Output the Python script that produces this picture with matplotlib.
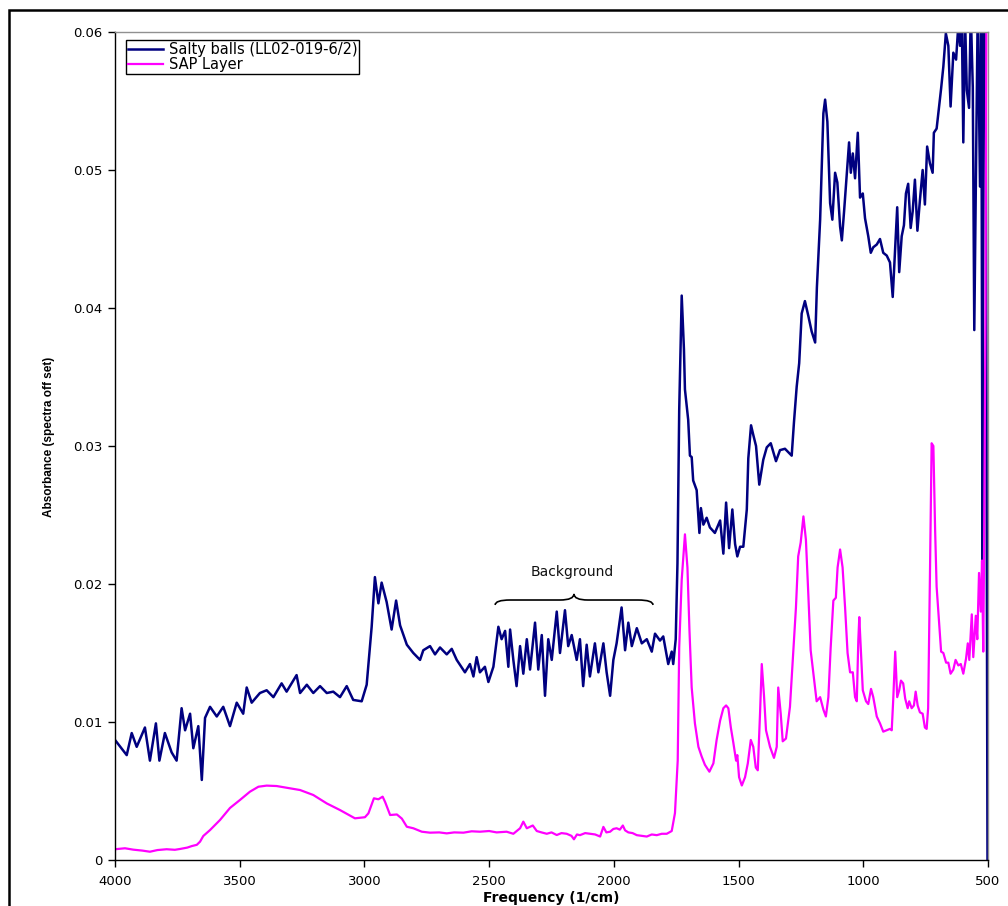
import matplotlib
matplotlib.use("Agg")
import matplotlib.pyplot as plt
from matplotlib.path import Path
from matplotlib.patches import PathPatch, Rectangle
from matplotlib.ticker import FuncFormatter, MultipleLocator

# ---------------- data ----------------
salty_freq = [4000,3953,3933,3913,3880,3860,3836,3822,3800,3773,3753,3733,3719,3699,3686,3666,3652,3639,3619,3592,
              3566,3539,3512,3486,3472,3452,3419,3392,3365,3332,3312,3272,3258,3231,3205,3178,3151,3125,3098,3071,
              3045,3011,2991,2971,2958,2944,2931,2911,2891,2873,2857,2830,2804,2777,2764,2737,2717,2697,2670,2650,
              2630,2597,2577,2563,2550,2537,2517,2503,2483,2463,2450,2436,2423,2416,2403,2390,2376,2363,2349,2336,
              2316,2303,2289,2276,2263,2249,2229,2216,2196,2183,2169,2149,2136,2123,2109,2096,2076,2062,2042,2029,
              2015,2002,1989,1969,1955,1942,1928,1908,1888,1868,1848,1835,1815,1802,1782,1768,1762,1752,1745,1738,
              1728,1719,1715,1702,1695,1688,1682,1668,1657,1651,1641,1628,1615,1595,1574,1561,1550,1538,1525,1514,
              1505,1494,1481,1467,1461,1450,1441,1430,1417,1401,1387,1371,1350,1334,1314,1287,1278,1267,1257,1247,
              1234,1220,1207,1193,1186,1173,1160,1153,1144,1133,1124,1113,1104,1093,1086,1077,1067,1057,1050,1042,
              1033,1022,1013,1002,993,980,970,960,946,933,920,906,893,882,873,864,856,846,837,829,
              820,810,802,793,783,773,762,753,744,733,722,717,706,696,688,679,669,659,650,639,
              628,619,612,605,599,592,585,576,569,561,555,548,541,532,527,522,518,510,502]
salty_abs = [.0087,.0076,.0092,.0082,.0096,.0072,.0099,.0072,.0092,.0078,.0072,.0110,.0094,.0106,.0081,.0097,.0058,.0103,.0111,.0104,
             .0111,.0097,.0114,.0106,.0125,.0114,.0121,.0123,.0118,.0128,.0122,.0134,.0121,.0127,.0121,.0126,.0121,.0122,.0118,.0126,
             .0116,.0115,.0127,.0169,.0205,.0186,.0201,.0187,.0167,.0188,.0170,.0156,.0150,.0145,.0152,.0155,.0149,.0154,.0149,.0153,
             .0145,.0136,.0142,.0133,.0147,.0136,.0140,.0129,.0140,.0169,.0160,.0166,.0140,.0167,.0145,.0126,.0155,.0135,.0160,.0138,
             .0172,.0138,.0163,.0119,.0160,.0145,.0180,.0150,.0181,.0155,.0163,.0145,.0160,.0126,.0156,.0133,.0157,.0136,.0157,.0136,
             .0119,.0145,.0157,.0183,.0152,.0172,.0155,.0168,.0157,.0160,.0151,.0164,.0159,.0162,.0142,.0151,.0142,.0160,.0215,.0326,
             .0409,.0370,.0341,.0319,.0293,.0292,.0275,.0268,.0237,.0255,.0243,.0248,.0241,.0237,.0246,.0222,.0259,.0226,.0254,.0229,
             .0220,.0227,.0227,.0254,.0291,.0315,.0308,.0300,.0272,.0290,.0299,.0302,.0289,.0297,.0298,.0293,.0317,.0343,.0360,.0396,
             .0405,.0394,.0383,.0375,.0415,.0464,.0541,.0551,.0535,.0476,.0464,.0498,.0491,.0459,.0449,.0470,.0495,.0520,.0498,.0512,
             .0494,.0527,.0480,.0483,.0465,.0452,.0440,.0444,.0446,.0450,.0440,.0438,.0433,.0408,.0440,.0473,.0426,.0452,.0460,.0483,
             .0490,.0458,.0470,.0493,.0456,.0478,.0500,.0475,.0517,.0505,.0498,.0527,.0530,.0546,.0559,.0575,.0599,.0590,.0546,.0585,
             .0580,.0605,.0590,.0610,.0520,.0610,.0558,.0545,.0615,.0560,.0384,.0500,.0620,.0488,.0620,.0217,.0620,.0620,.0000]

sap_freq = [4000,3960,3927,3890,3860,3830,3793,3760,3739,3710,3692,3672,3659,3646,3619,3579,3539,3499,3459,3425,
            3392,3352,3312,3258,3205,3151,3098,3038,2998,2984,2962,2944,2927,2917,2897,2870,2850,2830,2804,2770,
            2737,2700,2670,2640,2603,2570,2537,2500,2470,2430,2403,2376,2363,2349,2325,2309,2290,2269,2250,2229,
            2210,2189,2170,2160,2148,2136,2115,2096,2075,2055,2042,2030,2015,2002,1989,1976,1964,1955,1942,1925,
            1908,1888,1868,1848,1828,1808,1788,1768,1755,1744,1738,1728,1715,1705,1697,1688,1675,1661,1648,1635,
            1617,1601,1588,1574,1561,1550,1541,1531,1521,1510,1505,1498,1487,1474,1463,1451,1441,1431,1423,1414,
            1407,1398,1390,1374,1358,1347,1341,1331,1323,1310,1294,1281,1270,1261,1251,1240,1230,1220,1211,1200,
            1187,1173,1160,1150,1140,1131,1120,1110,1103,1093,1083,1073,1063,1053,1042,1033,1026,1020,1016,1009,
            1002,989,980,969,960,946,933,920,906,893,886,880,872,864,856,849,840,832,822,816,
            806,797,790,782,773,762,753,746,740,733,726,719,712,706,696,688,679,668,659,650,
            639,630,619,609,599,588,581,575,565,559,549,543,536,529,524,519,516,510,506]
sap_abs = [.00078,.00085,.00075,.00068,.00060,.00072,.00078,.00074,.00080,.00090,.00101,.00110,.00133,.00174,.00217,.00290,.00377,.00435,.00495,.00531,
           .00539,.00536,.00524,.00507,.00471,.00410,.00362,.00302,.00310,.00338,.00447,.00440,.00459,.00420,.00326,.00330,.00300,.00241,.00230,.00205,
           .00198,.00200,.00193,.00200,.00198,.00208,.00205,.00210,.00200,.00205,.00190,.00230,.00278,.00230,.00250,.00210,.00200,.00190,.00200,.00181,
           .00195,.00190,.00175,.00150,.00185,.00180,.00195,.00190,.00185,.00170,.00240,.00200,.00205,.00225,.00230,.00220,.00250,.00215,.00200,.00195,
           .00180,.00175,.00170,.00185,.00180,.00190,.00190,.00210,.00340,.00720,.01540,.02030,.0236,.0212,.0167,.0125,.0099,.0082,.0075,.0069,
           .0064,.0070,.0087,.0101,.0110,.0112,.0110,.0096,.0085,.0072,.0076,.0060,.0054,.0060,.0070,.0087,.0082,.0067,.0065,.0106,
           .0142,.0119,.0094,.0082,.0074,.0082,.0125,.0106,.0086,.0088,.0111,.0150,.0183,.0220,.0230,.0249,.0232,.0191,.0152,.0135,
           .0115,.0118,.0109,.0104,.0118,.0153,.0188,.0190,.0212,.0225,.0212,.0183,.0150,.0136,.0136,.0118,.0115,.0159,.0176,.0150,
           .0123,.0115,.0113,.0124,.0118,.0104,.0099,.0093,.0094,.0095,.0094,.0116,.0151,.0118,.0123,.0130,.0128,.0117,.0110,.0115,
           .0110,.0112,.0122,.0112,.0107,.0106,.0096,.0095,.0110,.0203,.0302,.0300,.0239,.0198,.0172,.0151,.0150,.0143,.0143,.0135,
           .0138,.0145,.0141,.0142,.0135,.0146,.0157,.0145,.0178,.0147,.0177,.0160,.0208,.0180,.0217,.0151,.0217,.0400,.0650]

series_labels = ["Salty balls (LL02-019-6/2)", "SAP Layer"]
x_ticks = [4000, 3500, 3000, 2500, 2000, 1500, 1000, 500]
annotation_text = "Background"
brace_left, brace_mid, brace_right = 2476, 2160, 1843

assert len(salty_freq) == len(salty_abs)
assert len(sap_freq) == len(sap_abs)

# ---------------- figure ----------------
plt.rcParams['font.family'] = ['DejaVu Sans']
fig = plt.figure(figsize=(10.08, 9.06), dpi=100)
ax = fig.add_axes([115/1008, 1-860/906, 873/1008, 828/906])

ax.plot(salty_freq, salty_abs, color='#000080', lw=1.8, label=series_labels[0], solid_joinstyle='round')
ax.plot(sap_freq, sap_abs, color='#FF00FF', lw=1.6, label=series_labels[1], solid_joinstyle='round')

ax.set_xlim(4000, 500)
ax.set_ylim(0, 0.06)
ax.set_xticks(x_ticks)
ax.yaxis.set_major_locator(MultipleLocator(0.01))
ax.yaxis.set_major_formatter(FuncFormatter(lambda v, p: '0' if abs(v) < 1e-9 else f'{v:.2f}'))
ax.tick_params(axis='both', direction='out', length=5, width=1, labelsize=9.5, colors='black', pad=4)
ax.tick_params(axis='x', pad=6)

for s in ['left', 'bottom']:
    ax.spines[s].set_color('black')
    ax.spines[s].set_linewidth(1.0)
for s in ['top', 'right']:
    ax.spines[s].set_color('#909090')
    ax.spines[s].set_linewidth(1.0)

ax.set_xlabel('Frequency (1/cm)', fontsize=10, fontweight='bold', labelpad=2)
ax.set_ylabel('Absorbance (spectra off set)', fontsize=8.5, fontweight='bold',
              family=['Liberation Sans Narrow', 'Liberation Sans', 'DejaVu Sans'])
ax.yaxis.set_label_coords(-0.0687, 0.511)

leg = ax.legend(loc='upper left', bbox_to_anchor=(11/873, 1-8/828), borderaxespad=0,
                fontsize=10.5, frameon=True, fancybox=False, shadow=False, framealpha=1,
                edgecolor='black', handlelength=2.4, handletextpad=0.4, borderpad=0.12,
                labelspacing=0.0)
leg.get_frame().set_linewidth(1.0)

# brace annotation
yb_end, yb_base, yb_tip = 0.01848, 0.01884, 0.01928
dx_end, dx_mid = 60, 56
verts = [(brace_left, yb_end), (brace_left, yb_base), (brace_left - dx_end, yb_base),
         (brace_mid + dx_mid, yb_base), (brace_mid, yb_base), (brace_mid, yb_tip),
         (brace_mid, yb_base), (brace_mid - dx_mid, yb_base),
         (brace_right + dx_end, yb_base), (brace_right, yb_base), (brace_right, yb_end)]
codes = [Path.MOVETO, Path.CURVE3, Path.CURVE3,
         Path.LINETO, Path.CURVE3, Path.CURVE3,
         Path.CURVE3, Path.CURVE3,
         Path.LINETO, Path.CURVE3, Path.CURVE3]
ax.add_patch(PathPatch(Path(verts, codes), fill=False, ec='black', lw=1.2))
ax.text(2168, 0.0209, annotation_text, ha='center', va='center', fontsize=10, color='#111111')

# outer figure frame (right and bottom edges lie outside the canvas)
fig.add_artist(Rectangle((9/1008, -0.5), 2.0, 1.5 - 10/906, transform=fig.transFigure,
                         fill=False, ec='black', lw=1.8, clip_on=False))

fig.savefig('out.png', dpi=100)
